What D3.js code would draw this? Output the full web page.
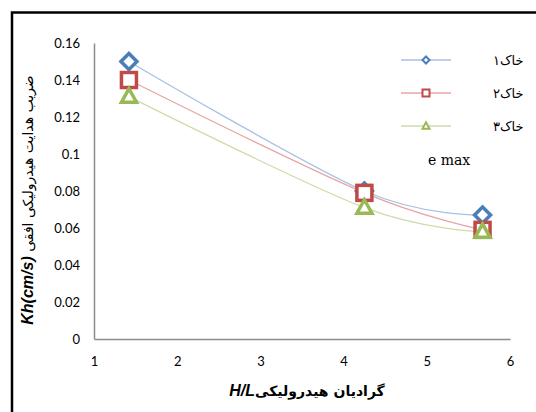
<!DOCTYPE html>
<html>
<head>
<meta charset="utf-8">
<script src="https://cdn.jsdelivr.net/npm/d3@7"></script>
<style>
  html, body { margin: 0; padding: 0; background: #fff; }
  svg { display: block; }
</style>
</head>
<body>
<div id="chart"></div>
<script>
// data
const gradient = [1.42, 4.25, 5.67];
const khak1 = [0.150, 0.080, 0.067];
const khak2 = [0.140, 0.079, 0.059];
const khak3 = [0.131, 0.071, 0.058];
const seriesNames = ['خاک۱', 'خاک۲', 'خاک۳'];
const xTicks = [1, 2, 3, 4, 5, 6];
const yTicks = [0, 0.02, 0.04, 0.06, 0.08, 0.1, 0.12, 0.14, 0.16];

const width = 536, height = 412;
const svg = d3.select('#chart').append('svg')
    .attr('width', width)
    .attr('height', height);

// outer frame (cut by the window on the right and bottom)
svg.append('rect')
    .attr('x', 12).attr('y', 12.5)
    .attr('width', 540).attr('height', 420)
    .attr('fill', 'none')
    .attr('stroke', '#000')
    .attr('stroke-width', 2.5);

const xScale = d3.scaleLinear().domain([1, 6]).range([94, 510]);
const yScale = d3.scaleLinear().domain([0, 0.16]).range([339, 43]);

// axes
const xAxis = d3.axisBottom(xScale).tickValues(xTicks).tickSize(0).tickPadding(18).tickFormat(d3.format('d'));
const yAxis = d3.axisLeft(yScale).tickValues(yTicks).tickSize(0).tickPadding(14).tickFormat(d => d === 0 ? '0' : String(+d.toFixed(2)));

const gx = svg.append('g').attr('transform', `translate(0,${yScale(0)})`).call(xAxis);
const gy = svg.append('g').attr('transform', `translate(${xScale(1)},0)`).call(yAxis);
[gx, gy].forEach(g => {
    g.select('.domain').attr('stroke', '#8c8c8c').attr('stroke-width', 1.5);
    g.selectAll('text')
        .attr('fill', '#000')
        .style('font-family', 'Lato, "Open Sans", sans-serif')
        .style('font-size', '13px');
});

const series = [
    { name: seriesNames[0], values: khak1, line: '#a7c0e3', color: '#4a7ebb', shape: 'diamond' },
    { name: seriesNames[1], values: khak2, line: '#e6a5a3', color: '#be4b48', shape: 'square' },
    { name: seriesNames[2], values: khak3, line: '#cddcaa', color: '#98b954', shape: 'triangle' }
];

const line = d3.line()
    .x((d, i) => xScale(gradient[i]))
    .y(d => yScale(d))
    .curve(d3.curveCardinal.tension(0));

series.forEach(s => {
    svg.append('path')
        .datum(s.values)
        .attr('d', line)
        .attr('fill', 'none')
        .attr('stroke', s.line)
        .attr('stroke-width', 1.3);
});

function marker(g, shape, cx, cy, r, color, sw) {
    if (shape === 'diamond') {
        g.append('path')
            .attr('d', `M${cx},${cy - r}L${cx + r},${cy}L${cx},${cy + r}L${cx - r},${cy}Z`)
            .attr('fill', '#fff').attr('stroke', color).attr('stroke-width', sw);
    } else if (shape === 'square') {
        g.append('rect')
            .attr('x', cx - r).attr('y', cy - r)
            .attr('width', 2 * r).attr('height', 2 * r)
            .attr('fill', '#fff').attr('stroke', color).attr('stroke-width', sw);
    } else {
        g.append('path')
            .attr('d', `M${cx},${cy - r * 1.05}L${cx + r},${cy + r * 0.75}L${cx - r},${cy + r * 0.75}Z`)
            .attr('fill', '#fff').attr('stroke', color).attr('stroke-width', sw);
    }
}

const markers = svg.append('g');
series.forEach(s => {
    s.values.forEach((v, i) => {
        const r = s.shape === 'diamond' ? 8 : 7.5;
        marker(markers, s.shape, xScale(gradient[i]), yScale(v), r, s.color, 3.5);
    });
});

// legend
const legend = svg.append('g');
const legendY = [60, 93, 126];
series.forEach((s, i) => {
    legend.append('line')
        .attr('x1', 401).attr('x2', 451)
        .attr('y1', legendY[i]).attr('y2', legendY[i])
        .attr('stroke', s.line).attr('stroke-width', 1.3);
    marker(legend, s.shape, 426, legendY[i], 3.5, s.color, 2);
    legend.append('text')
        .attr('x', 493).attr('y', legendY[i] + 5)
        .attr('text-anchor', 'end')
        .attr('direction', 'rtl')
        .style('font-family', '"DejaVu Sans", sans-serif')
        .style('font-size', '13px')
        .text(s.name);
});
legend.append('text')
    .attr('x', 428).attr('y', 165)
    .style('font-family', '"DejaVu Serif", "Liberation Serif", serif')
    .style('font-size', '14px')
    .text('e max');

// axis titles
const xTitle = svg.append('text')
    .attr('x', 307).attr('y', 396)
    .attr('text-anchor', 'middle')
    .style('font-family', '"DejaVu Sans", sans-serif')
    .style('font-size', '14px')
    .style('font-weight', 'bold');
xTitle.append('tspan').style('font-style', 'italic').style('font-family', '"Liberation Sans", sans-serif').style('font-size', '16px').text('H/L');
xTitle.append('tspan').text('گرادیان هیدرولیکی');

const yTitle = svg.append('text')
    .attr('transform', `translate(33,200) rotate(-90)`)
    .attr('text-anchor', 'middle')
    .style('font-family', '"DejaVu Sans", sans-serif')
    .style('font-size', '14px');
yTitle.append('tspan').style('font-style', 'italic').style('font-weight', 'bold')
    .style('font-family', '"Liberation Sans", sans-serif').style('font-size', '16px').text('Kh(cm/s) ');
yTitle.append('tspan').text('ضریب هدایت هیدرولیکی افقی');
</script>
</body>
</html>
